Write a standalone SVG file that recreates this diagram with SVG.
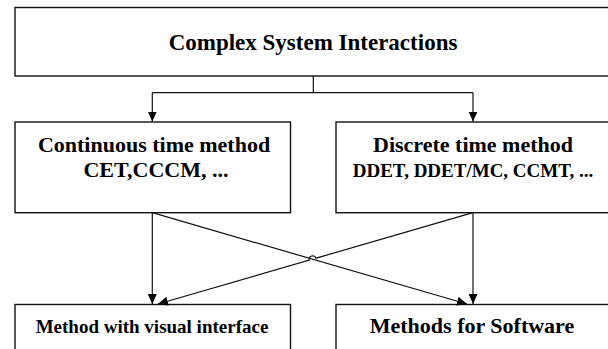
<svg xmlns="http://www.w3.org/2000/svg" width="608" height="349" viewBox="0 0 608 349">
<style>
.box{fill:#fff;stroke:#111;stroke-width:1.4}
.con{fill:none;stroke:#111;stroke-width:1.2}
text{font-family:"Liberation Serif","Times New Roman",serif;font-weight:bold;fill:#000;text-anchor:middle}
.t23{font-size:23px}
.t22{font-size:22px}
.t19{font-size:19px}
</style>
<defs>
<marker id="ah" markerUnits="userSpaceOnUse" markerWidth="10" markerHeight="9" refX="10" refY="4.5" orient="auto">
<path d="M0,0 L10,4.5 L0,9 z" fill="#000"/>
</marker>
</defs>
<g id="n-top">
<rect class="box" x="15" y="7.5" width="620" height="68.5"/>
<text class="t23" x="313" y="50">Complex System Interactions</text>
</g>
<g id="n-cont">
<rect class="box" x="15" y="122" width="275.5" height="90.7"/>
<text class="t22" x="154" y="152">Continuous time method</text>
<text class="t22" x="156" y="177">CET,CCCM, ...</text>
</g>
<g id="n-disc">
<rect class="box" x="336" y="122" width="300" height="90.7"/>
<text class="t22" x="473" y="152">Discrete time method</text>
<text class="t19" x="473" y="177">DDET, DDET/MC, CCMT, ...</text>
</g>
<g id="n-visual">
<rect class="box" x="15" y="304.5" width="275.5" height="60"/>
<text class="t19" x="152" y="333">Method with visual interface</text>
</g>
<g id="n-soft">
<rect class="box" x="336" y="304.5" width="300" height="60"/>
<text class="t22" x="472" y="333">Methods for Software</text>
</g>
<g id="connectors">
<path class="con" d="M313.3,76 V92.7 M152.3,92.7 H473"/>
<path class="con" d="M152.3,92.7 V121.5" marker-end="url(#ah)"/>
<path class="con" d="M473,92.7 V121.5" marker-end="url(#ah)"/>
<path class="con" d="M152.3,212.7 V304" marker-end="url(#ah)"/>
<path class="con" d="M473,212.7 V304" marker-end="url(#ah)"/>
<path class="con" d="M152.3,212.7 L467,304" marker-end="url(#ah)"/>
<path class="con" d="M473,212.7 L316,258.2 A3.5,3.5 0 0 0 309.3,260.2 L158,304" marker-end="url(#ah)"/>
</g>
</svg>
